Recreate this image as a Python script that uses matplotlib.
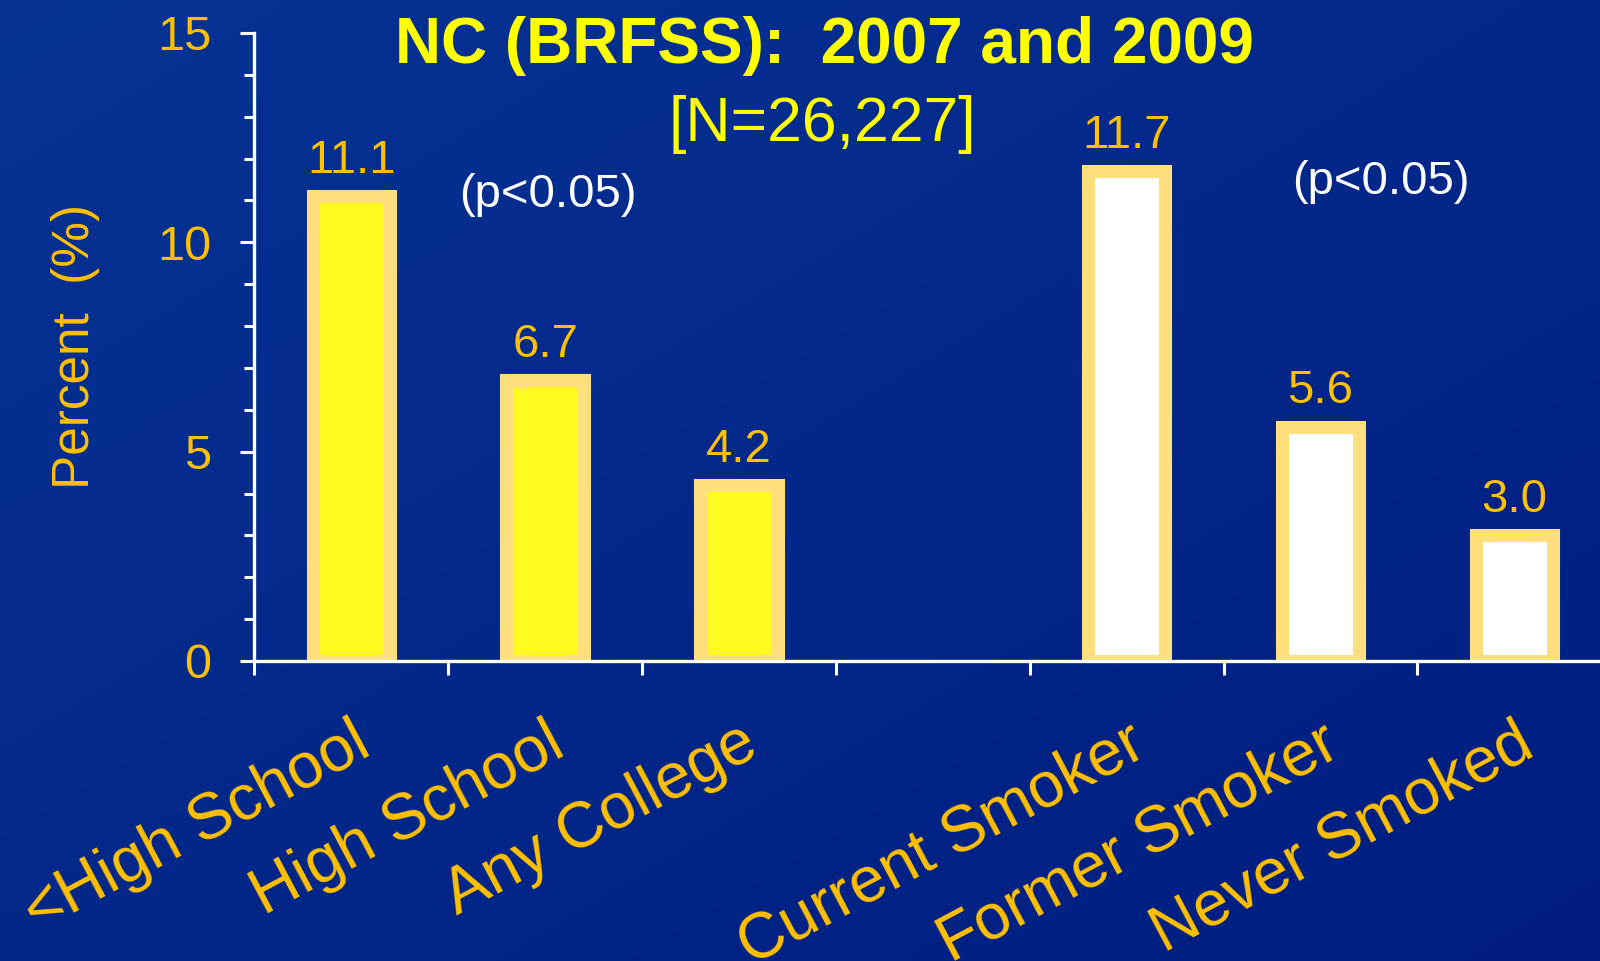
import numpy as np
import matplotlib
matplotlib.use("Agg")
import matplotlib.pyplot as plt
from matplotlib.ticker import MultipleLocator

plt.rcParams['font.family'] = ['Liberation Sans', 'DejaVu Sans']

# data
edu_labels = ['<High School', 'High School', 'Any College']
edu_values = [11.1, 6.7, 4.2]
smoke_labels = ['Current Smoker', 'Former Smoker', 'Never Smoked']
smoke_values = [11.7, 5.6, 3.0]
edu_pos = [0, 1, 2]
smoke_pos = [4, 5, 6]

gold = '#FFC000'
edge = '#FFDE7D'

fig = plt.figure(figsize=(16, 9.61), dpi=100)

# blue background gradient
bg = fig.add_axes([0, 0, 1, 1])
bg.axis('off')
yy, xx = np.mgrid[0:1:200j, 0:1:200j]
t = 0.5 * (xx + (1 - yy))
c0 = np.array([0.02, 0.20, 0.58])
c1 = np.array([0.0, 0.11, 0.50])
grad = c0[None, None, :] * (1 - t[..., None]) + c1[None, None, :] * t[..., None]
bg.imshow(grad, extent=[0, 1, 0, 1], aspect='auto', origin='lower')

ax = fig.add_axes([0.159, 0.3122, 0.848, 0.6535])
ax.set_facecolor('none')

ax.bar(edu_pos, edu_values, width=0.40, color='#FFFA22', edgecolor=edge, linewidth=9.4)
ax.bar(smoke_pos, smoke_values, width=0.40, color='white', edgecolor=edge, linewidth=9.4)

for x, v in zip(edu_pos + smoke_pos, edu_values + smoke_values):
    ax.annotate(f'{v:.1f}', (x, v), xytext=(0, 17), textcoords='offset points',
                ha='center', va='baseline', fontsize=34, color=gold)

ax.text(1.016, 10.84, '(p<0.05)', ha='center', va='baseline', fontsize=34, color='white')
ax.text(5.31, 11.15, '(p<0.05)', ha='center', va='baseline', fontsize=34, color='white')

ax.set_xlim(-0.5, 6.5)
ax.set_ylim(0, 15)

ax.set_xticks(np.arange(-0.5, 6.6, 1), [''] * 8)
ax.set_xticks(edu_pos + smoke_pos, edu_labels + smoke_labels, minor=True)
ax.tick_params(axis='x', which='major', length=10, width=2.2, color='white', direction='out')
ax.tick_params(axis='x', which='minor', length=0, pad=37, labelsize=46, labelcolor=gold)
for lab in ax.get_xticklabels(minor=True):
    lab.set_rotation(28)
    lab.set_ha('right')
    lab.set_rotation_mode('anchor')

ax.set_yticks([0, 5, 10, 15])
ax.yaxis.set_minor_locator(MultipleLocator(1))
ax.tick_params(axis='y', which='major', length=10, width=2.2, color='white', pad=21,
               labelsize=35, labelcolor=gold)
ax.tick_params(axis='y', which='minor', length=7, width=2.2, color='white')

for s in ['top', 'right']:
    ax.spines[s].set_visible(False)
for s in ['left', 'bottom']:
    ax.spines[s].set_color('white')
    ax.spines[s].set_linewidth(2.4)

ax.set_ylabel('Percent  (%)', fontsize=37, color=gold)
ax.yaxis.set_label_coords(-0.114, 0.5)

fig.text(0.515, 0.934, 'NC (BRFSS):  2007 and 2009', ha='center', va='baseline',
         fontsize=46, fontweight='bold', color='#FFFF00')
fig.text(0.514, 0.853, '[N=26,227]', ha='center', va='baseline', fontsize=45, color='#FFFF00')

fig.savefig('out.png', dpi=100)
